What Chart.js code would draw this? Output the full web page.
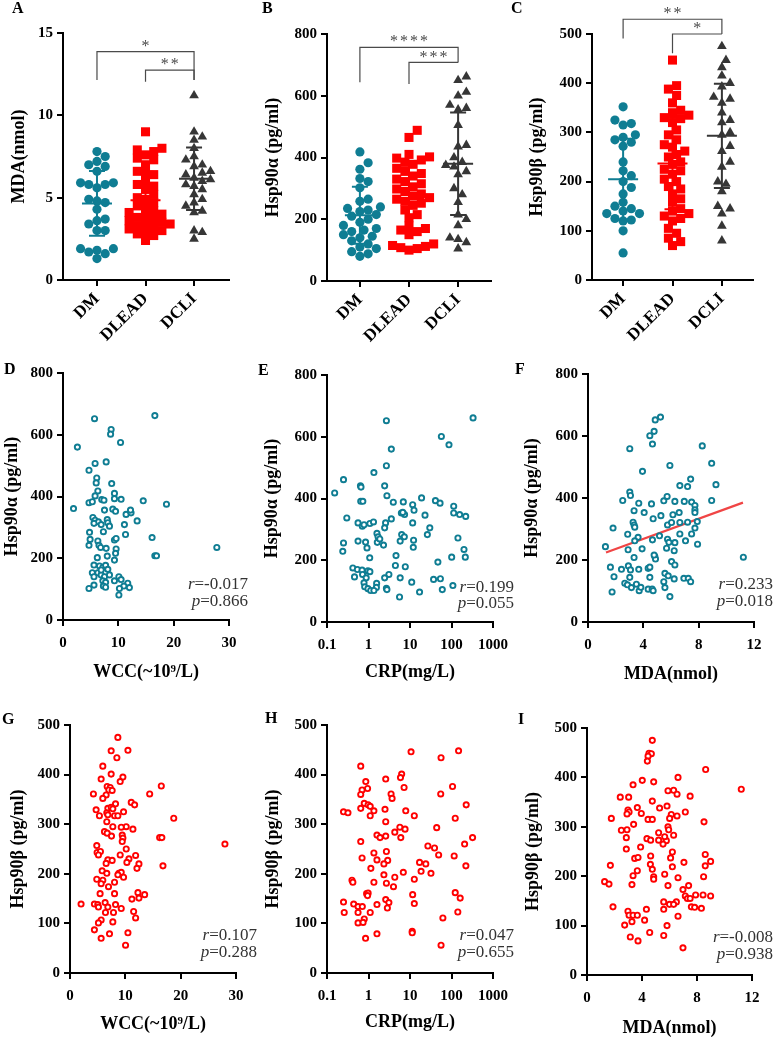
<!DOCTYPE html>
<html>
<head>
<meta charset="utf-8">
<script src="https://cdn.jsdelivr.net/npm/chart.js@4.4.1/dist/chart.umd.min.js"></script>
<style>
  body { margin: 0; background: #fff; width: 775px; height: 1038px; position: relative; overflow: hidden; }
  canvas { position: absolute; }
</style>
</head>
<body>
<canvas id="cA"></canvas><canvas id="cB"></canvas><canvas id="cC"></canvas>
<canvas id="cD"></canvas><canvas id="cE"></canvas><canvas id="cF"></canvas>
<canvas id="cG"></canvas><canvas id="cH"></canvas><canvas id="cI"></canvas>
<script>
// ===== DATA =====
const groups = ["DM", "DLEAD", "DCLI"];

// A: MDA (nmol)
const mdaDM = [7.8,7.5,7.2,7.0,6.9,6.6,5.9,5.9,5.8,5.8,5.6,4.9,4.8,4.7,4.3,3.7,3.6,3.4,3.0,3.0,1.9,1.9,1.8,1.7,1.6,1.3];
const mdaDLEAD = [9.0,8.0,7.9,7.8,7.6,7.4,7.3,7.0,6.6,6.5,6.4,6.0,5.8,5.7,5.5,5.2,5.0,4.9,4.7,4.5,4.4,4.2,4.1,4.0,3.9,3.8,3.7,3.6,3.5,3.4,3.4,3.3,3.2,3.1,3.0,2.9,2.8,2.7,2.4];
const mdaDCLI = [11.2,9.0,8.7,8.5,8.0,7.5,7.3,7.0,6.9,6.6,6.5,6.4,6.2,6.1,6.0,5.8,5.7,5.5,5.2,4.9,4.7,4.5,4.2,4.1,3.0,2.9,2.5];
const mdaMean = [4.65, 4.85, 6.15];
const mdaSD = [1.97, 1.73, 1.9];

// B: Hsp90a (pg/ml)
const alphaDM = [418,383,362,332,322,302,265,258,240,235,230,225,215,210,200,190,180,170,165,160,150,145,140,130,120,110,105,95,88,80];
const alphaDLEAD = [488,465,410,402,398,392,385,378,365,355,348,340,330,322,315,305,298,290,282,275,270,265,258,252,245,230,215,205,178,170,165,160,150,120,115,112,108,105,100];
const alphaDCLI = [662,650,612,600,570,560,555,505,440,435,400,385,375,370,355,345,300,280,255,215,200,180,140,135,125,105];
const alphaMean = [213, 268, 380];
const alphaSD = [92, 105, 166];

// C: Hsp90b (pg/ml)
const betaDM = [352,325,318,315,295,290,285,280,272,240,222,212,200,188,175,158,150,145,140,135,135,125,122,120,100,55];
const betaDLEAD = [447,395,388,375,360,345,340,335,330,328,320,305,295,285,275,270,262,255,250,240,235,225,222,215,205,200,190,185,175,165,158,145,140,135,130,125,120,105,95,85,78,70];
const betaDCLI = [475,447,432,415,400,393,372,368,360,340,325,320,300,295,272,262,240,230,200,195,180,150,145,135,110,80];
const betaMean = [205, 237, 293];
const betaSD = [82, 93, 106];

// D: WCC vs Hsp90a
const dWcc = [5.7,16.6,8.7,8.6,10.4,2.6,5.8,7.8,4.7,6.1,6.0,8.8,6.3,5.8,9.3,4.7,5.3,7.0,7.4,9.3,10.5,14.5,18.7,1.9,7.5,9.0,9.5,11.4,12.3,12.2,13.4,5.4,5.8,6.4,5.6,8.0,8.1,6.9,8.4,11.1,4.8,7.3,11.3,16.1,4.9,6.3,9.3,9.6,4.7,6.5,6.8,7.8,9.6,9.5,8.0,16.6,16.9,27.8,6.2,9.3,5.6,6.6,7.2,7.7,8.1,5.3,6.3,6.9,7.5,5.6,8.4,9.3,10.1,10.5,7.2,7.7,11.7,11.0,12.0,10.2,5.6,4.7,7.3,7.7,10.1,6.9];
const dHspA = [652,662,617,602,575,560,507,512,485,460,444,442,418,402,410,380,383,390,388,393,391,386,375,361,356,359,352,342,347,356,321,332,323,318,313,325,315,309,304,309,284,286,277,267,261,256,259,264,242,242,235,232,230,216,207,208,208,235,202,194,178,175,170,177,164,153,153,146,140,140,146,127,140,131,127,122,119,110,105,102,113,102,110,106,81,162];

// E: CRP vs Hsp90a
const eCrp = [2.7,331,57,87,3.55,2.7,1.35,0.25,0.153,0.64,0.66,2.45,2.78,0.65,0.73,3.96,6.9,11.6,19,41,53,113,113,157,220,12.5,23,7.4,6.2,6.7,0.3,3.55,0.56,0.71,0.78,1.08,1.32,2.58,2.45,11.6,30,26.2,1.6,1.7,6.3,7.3,0.25,0.56,0.85,1.63,1.87,2.3,5.8,12.2,12,0.92,143,0.24,200,1.07,4.6,101,215,47,0.42,0.54,0.7,0.97,1.08,0.72,0.46,3.1,4.45,7.7,0.88,2.45,5.8,0.78,1.57,0.81,0.97,1.55,2.7,2.78,1.13,1.35,11,37,54,60,108,17,5.6];
const eHspA = [652,661,601,574,560,506,484,461,418,441,437,441,409,391,391,388,389,380,402,393,385,375,353,348,342,362,346,348,353,355,337,334,321,310,315,319,324,321,305,321,305,283,287,276,283,276,256,262,259,258,269,249,262,265,242,240,272,229,235,208,215,210,210,194,175,170,168,166,163,154,146,154,183,179,143,143,143,127,125,114,108,112,109,105,102,102,129,138,140,105,118,97,81];

// F: MDA vs Hsp90a, with fitted line
const fMda = [4.86,5.24,4.78,4.47,4.66,3.02,8.26,8.94,5.92,3.94,7.42,6.64,7.2,9.25,3.02,3.07,2.51,3.67,4.59,5.48,5.72,6.28,6.96,7.49,7.73,8.94,3.33,4.06,5.27,6.14,6.59,7.73,7.73,3.26,3.33,3.38,4.71,5.75,6.04,6.64,7.2,7.9,7.73,1.81,2.87,6.64,7.49,3.62,5.17,3.38,4.66,5.75,5.85,6.28,7.05,7.92,1.26,2.9,3.91,5.68,6.23,4.83,4.88,4.78,3.33,6.04,6.28,1.62,2.92,3.07,2.42,3.67,4.35,4.47,1.88,3.02,4.47,5.56,5.8,6.23,6.93,7.25,7.42,5.48,2.66,2.85,3.5,3.14,3.7,3.82,4.35,4.64,4.71,5.56,1.74,5.92,11.23];
const fHspA = [652,661,615,601,574,559,568,512,505,486,461,440,437,443,419,408,392,383,381,391,405,389,389,387,376,392,359,353,343,346,353,362,353,322,313,306,333,313,321,321,322,324,303,303,283,284,284,273,278,262,265,267,257,256,262,251,243,233,236,238,230,211,203,216,208,195,184,177,181,168,170,170,173,177,146,144,144,157,149,139,141,141,130,130,125,120,122,111,101,112,106,106,101,111,97,82,209];
const fFitX = [1.3, 11.2];
const fFitY = [224, 385];

// G: WCC vs Hsp90b
const gWcc = [8.65,7.44,10.47,8.47,5.93,7.44,5.63,9.56,9.07,6.72,7.26,7.02,7.62,16.5,4.23,14.4,6.53,5.93,8.23,11.07,11.68,4.72,6.84,7.44,7.74,9.68,6.65,6.84,5.32,8.05,8.65,18.75,6.65,7.74,10.16,9.26,11.37,6.23,6.72,7.5,9.44,9.56,16.2,16.6,9.44,28.0,4.84,10.16,4.9,5.5,5.14,9.07,11.86,10.65,6.84,7.62,6.53,10.28,12.46,12.1,16.8,5.81,6.65,8.83,9.26,8.65,9.68,4.84,5.93,5.63,8.05,6.96,5.44,8.05,12.28,13.49,12.46,11.19,4.41,2.0,5.02,6.35,8.23,5.14,6.84,9.26,6.41,7.86,11.5,11.86,5.63,5.14,7.74,4.41,10.47,7.14,5.63,10.04];
const gHspB = [475,448,449,434,417,401,391,395,386,376,374,369,368,377,361,361,359,352,341,344,339,329,332,334,331,325,323,319,317,317,317,312,305,295,295,294,290,285,282,276,278,272,273,273,265,260,257,250,243,245,238,238,237,230,228,227,221,223,220,211,216,206,201,201,203,198,193,189,187,180,183,174,160,160,162,158,151,149,139,139,138,142,138,133,133,130,122,122,124,111,107,101,103,87,81,79,70,56];

// H: CRP vs Hsp90b
const hCrp = [10.6,148,56,0.65,6.3,5.9,2.6,0.86,106,7.2,0.95,0.70,0.65,55,3.5,3.7,0.79,0.98,1.1,226,0.65,1.35,2.5,7.9,0.25,0.32,1.1,12.7,123,2.6,5.7,44,4.3,7.6,1.6,2.6,6.0,1.9,322,0.65,207,27,39,1.35,2.7,49,116,0.70,1.6,2.9,2.35,17,24,222,1.14,18.5,6.9,32,2.35,4.3,12.7,0.40,0.42,1.35,2.7,4.0,0.9,0.98,0.95,11.6,123,162,0.25,2.6,3.1,0.44,0.56,0.71,1.6,12.7,2.85,0.26,0.56,1.1,142,0.79,62,0.56,0.74,11.3,11.3,1.6,0.85,56];
const hHspB = [446,448,434,417,401,394,391,386,376,374,372,369,360,361,361,352,342,339,336,339,332,327,330,327,325,323,317,317,312,305,294,293,284,290,278,276,273,273,273,265,260,256,252,242,245,238,236,232,228,227,220,223,220,216,211,205,203,201,198,193,189,187,183,183,181,174,160,161,156,158,162,151,143,148,142,139,134,134,138,140,131,122,122,122,123,109,111,101,102,84,81,79,70,56];

// I: MDA vs Hsp90b
const iMda = [4.75,4.51,4.68,4.44,4.39,8.63,6.62,4.02,4.85,3.35,11.22,5.89,6.3,6.55,7.5,2.42,3.03,4.75,3.66,5.28,5.82,7.15,2.98,3.06,2.91,3.95,6.13,6.55,6.01,1.77,4.44,4.75,8.51,3.39,2.5,2.91,5.89,5.94,5.21,6.3,2.86,4.36,4.63,5.21,5.77,5.65,5.53,2.86,3.9,6.21,8.6,4.63,6.08,3.47,3.71,1.7,7.05,8.99,8.6,4.61,6.21,4.75,3.66,3.35,5.65,4.85,4.85,6.62,8.48,1.28,1.6,3.27,5.89,7.39,6.98,8.44,8.99,7.15,7.3,7.5,7.9,5.58,6.5,6.0,6.3,7.59,7.83,8.32,1.89,5.58,4.32,2.98,3.06,3.35,3.66,3.27,6.62,4.19,2.74,5.82,4.56,3.15,5.58,3.71,6.98];
const iHspB = [475,449,448,443,433,416,400,394,391,385,376,373,374,366,362,360,360,352,339,338,342,330,334,330,326,327,325,322,317,317,315,315,310,305,293,294,300,294,288,283,278,276,273,273,272,280,265,255,259,249,244,241,237,236,238,222,228,230,221,224,219,214,211,201,204,199,194,197,199,189,184,183,181,181,173,162,160,160,155,155,162,148,148,143,143,138,137,135,138,133,133,129,121,121,121,108,119,111,101,100,86,77,80,69,55];

// correlation results printed on panels D-I
const corrR = ["-0.017", "0.199", "0.233", "0.107", "0.047", "-0.008"];
const corrP = ["0.866", "0.055", "0.018", "0.288", "0.655", "0.938"];

// ===== STYLE =====
const FONT = "'Liberation Serif', 'Times New Roman', serif";
const TEAL = "#0f7d93", RED = "#ff0000", DARK = "#363636";
const groupColors = [TEAL, RED, DARK];
const groupShapes = ["circle", "rect", "triangle"];
const groupRadius = [4.6, 6.4, 5.6];
const TICK_SIZE = 15, TITLE_SIZE = 18;

// spread points of one group sideways so that markers do not pile up
function swarm(vals, pxY, pxX, gap) {
  const order = vals.map((v, i) => i).sort((a, b) => vals[a] - vals[b]);
  const placed = [], off = [];
  order.forEach(i => {
    const py = vals[i] * pxY;
    let best = 0;
    for (let k = 0; k < 80; k++) {
      const dx = (k % 2 ? 1 : -1) * Math.ceil(k / 2) * gap / 2;
      if (placed.every(p => (p.x - dx) ** 2 + (p.y - py) ** 2 >= gap * gap)) { best = dx; break; }
    }
    placed.push({ x: best, y: py });
    off[i] = best / pxX;
  });
  return off;
}

const tickFont = (size = TICK_SIZE) => ({ family: FONT, size, weight: "bold" });

function axis(extra) {
  return Object.assign({
    border: { display: true, color: "#000", width: 2 },
    grid: { drawOnChartArea: false, color: "#000", lineWidth: 2, tickLength: 6 },
    ticks: { color: "#000", padding: 4, font: tickFont() }
  }, extra);
}

function titleOpt(text, pad) {
  return { display: true, text, color: "#000", font: { family: FONT, size: TITLE_SIZE, weight: "bold" }, padding: pad };
}

// letters, mean/SD bars, brackets and r/p text
function extras(p) {
  return {
    id: "extras",
    afterDatasetsDraw(chart) {
      const { ctx, scales: { x, y } } = chart;
      const bx = p.box.x, by = p.box.y;
      ctx.save();
      ctx.fillStyle = "#000";
      ctx.font = `bold 16px ${FONT}`;
      ctx.textBaseline = "top";
      ctx.fillText(p.letter[0], p.letter[1] - bx, p.letter[2] - by);

      if (p.means) {
        p.means.forEach((m, i) => {
          const cx = x.getPixelForValue(i);
          const ym = y.getPixelForValue(m);
          const yt = y.getPixelForValue(m + p.sds[i]);
          const yb = y.getPixelForValue(m - p.sds[i]);
          ctx.strokeStyle = groupColors[i];
          ctx.lineWidth = 2;
          ctx.beginPath();
          ctx.moveTo(cx - 15, ym); ctx.lineTo(cx + 15, ym);
          ctx.moveTo(cx, yt); ctx.lineTo(cx, yb);
          ctx.moveTo(cx - 8, yt); ctx.lineTo(cx + 8, yt);
          ctx.moveTo(cx - 8, yb); ctx.lineTo(cx + 8, yb);
          ctx.stroke();
        });
      }

      if (p.brackets) {
        ctx.strokeStyle = "#4a4a4a";
        ctx.fillStyle = "#4a4a4a";
        ctx.lineWidth = 1.2;
        ctx.textAlign = "center";
        ctx.textBaseline = "middle";
        ctx.font = `16px ${FONT}`;
        ctx.letterSpacing = "2px";
        p.brackets.forEach(b => {
          const x1 = x.getPixelForValue(b.from), x2 = x.getPixelForValue(b.to);
          const yl = y.getPixelForValue(b.level);
          ctx.beginPath();
          ctx.moveTo(x1, y.getPixelForValue(b.footL));
          ctx.lineTo(x1, yl);
          ctx.lineTo(x2, yl);
          ctx.lineTo(x2, y.getPixelForValue(b.footR));
          ctx.stroke();
          ctx.fillText(b.stars, (x1 + x2) / 2 + 1, yl - 5);
        });
        ctx.letterSpacing = "0px";
      }

      if (p.corr) {
        const [r, pv, xr, y1, y2] = p.corr;
        ctx.fillStyle = "#333";
        ctx.textBaseline = "alphabetic";
        ctx.textAlign = "right";
        [["r", "=" + r, y1], ["p", "=" + pv, y2]].forEach(([sym, rest, yy]) => {
          ctx.font = `17px ${FONT}`;
          const w = ctx.measureText(rest).width;
          ctx.fillText(rest, xr - bx, yy - by);
          ctx.font = `italic 17px ${FONT}`;
          ctx.fillText(sym, xr - bx - w, yy - by);
        });
      }
      ctx.restore();
    }
  };
}

function makePanel(id, p) {
  const cv = document.getElementById(id);
  const { box, area } = p;
  cv.width = box.w; cv.height = box.h;
  cv.style.left = box.x + "px"; cv.style.top = box.y + "px";
  const yW = area.l - box.x, xH = box.y + box.h - area.b;
  const fitY = s => { s.width = yW; s.paddingTop = 0; s.paddingBottom = 0; };
  const fitX = s => { s.height = xH; s.paddingLeft = 0; s.paddingRight = 0; };
  const half = TITLE_SIZE * 1.2 / 2;

  const xScale = Object.assign(axis(p.x), { afterFit: fitX });
  const yScale = axis({
    min: 0, max: p.yMax,
    ticks: { color: "#000", padding: 4, stepSize: p.yStep, font: tickFont() },
    title: titleOpt(p.yTitle, { top: p.yTitleX - box.x - half, bottom: 0 }),
    afterFit: fitY
  });
  if (p.xTitle) xScale.title = titleOpt(p.xTitle, { top: 0, bottom: box.y + box.h - half - p.xTitleY });

  return new Chart(cv, {
    type: "scatter",
    data: { datasets: p.datasets },
    options: {
      responsive: false,
      animation: false,
      events: [],
      layout: { padding: { left: 0, bottom: 0, top: area.t - box.y, right: box.x + box.w - area.r } },
      plugins: { legend: { display: false }, tooltip: { enabled: false } },
      scales: { x: xScale, y: yScale }
    },
    plugins: [extras(p)]
  });
}

// dot plot (top row)
function dotPanel(id, p, lists, pxY, pxX) {
  p.datasets = lists.map((vals, gi) => {
    const off = swarm(vals, pxY, pxX, 8.2);
    return {
      data: vals.map((v, i) => ({ x: gi + off[i], y: v })),
      pointStyle: groupShapes[gi],
      pointRadius: groupRadius[gi],
      backgroundColor: groupColors[gi],
      borderColor: groupColors[gi],
      borderWidth: 0
    };
  });
  p.x = {
    type: "linear", min: p.xMin, max: p.xMax,
    afterBuildTicks: s => { s.ticks = groups.map((g, i) => ({ value: i })); },
    ticks: {
      color: "#000", padding: 3, autoSkip: false, minRotation: 45, maxRotation: 45,
      font: tickFont(17),
      callback: v => groups[v]
    }
  };
  return makePanel(id, p);
}

// scatter plot (middle and bottom rows)
function scatterPanel(id, p, xs, ys, color) {
  p.datasets = [{
    data: xs.map((v, i) => ({ x: v, y: ys[i] })),
    pointStyle: "circle",
    pointRadius: 2.6,
    borderWidth: 1.9,
    borderColor: color,
    backgroundColor: "#fff"
  }];
  if (p.fit) {
    p.datasets.push({
      type: "line",
      data: p.fit[0].map((v, i) => ({ x: v, y: p.fit[1][i] })),
      borderColor: "#f04545",
      borderWidth: 2.2,
      pointRadius: 0
    });
  }
  return makePanel(id, p);
}

function linX(max, step) {
  return { type: "linear", min: 0, max, ticks: { color: "#000", padding: 8, stepSize: step, font: tickFont() } };
}
function logX() {
  return {
    type: "logarithmic", min: 0.1, max: 1000,
    afterBuildTicks: s => { s.ticks = [0.1, 1, 10, 100, 1000].map(v => ({ value: v })); },
    ticks: { color: "#000", padding: 8, font: tickFont(), callback: v => String(v) }
  };
}

// ===== TOP ROW =====
dotPanel("cA", {
  box: { x: 0, y: 0, w: 258, h: 350 }, area: { l: 63, r: 229, t: 33, b: 280 },
  letter: ["A", 12, 1], yMax: 15, yStep: 5, yTitle: "MDA(nmol)", yTitleX: 19,
  xMin: -0.7, xMax: 2.72, means: mdaMean, sds: mdaSD,
  brackets: [
    { from: 0, to: 2, level: 13.87, footL: 12.15, footR: 12.15, stars: "*" },
    { from: 1, to: 2, level: 12.75, footL: 12.04, footR: 12.15, stars: "**" }
  ]
}, [mdaDM, mdaDLEAD, mdaDCLI], 247 / 15, 48.5);

dotPanel("cB", {
  box: { x: 258, y: 0, w: 258, h: 350 }, area: { l: 327, r: 491, t: 34, b: 281 },
  letter: ["B", 262, 1], yMax: 800, yStep: 200, yTitle: "Hsp90α (pg/ml)", yTitleX: 273,
  xMin: -0.67, xMax: 2.67, means: alphaMean, sds: alphaSD,
  brackets: [
    { from: 0, to: 2, level: 757, footL: 644, footR: 708, stars: "****" },
    { from: 1, to: 2, level: 708, footL: 638, footR: 708, stars: "***" }
  ]
}, [alphaDM, alphaDLEAD, alphaDCLI], 247 / 800, 49);

dotPanel("cC", {
  box: { x: 508, y: 0, w: 267, h: 350 }, area: { l: 592, r: 753, t: 34, b: 280 },
  letter: ["C", 511, 1], yMax: 500, yStep: 100, yTitle: "Hsp90β (pg/ml)", yTitleX: 537,
  xMin: -0.63, xMax: 2.63, means: betaMean, sds: betaSD,
  brackets: [
    { from: 0, to: 2, level: 530, footL: 491, footR: 500, stars: "**" },
    { from: 1, to: 2, level: 500, footL: 461, footR: 500, stars: "*" }
  ]
}, [betaDM, betaDLEAD, betaDCLI], 246 / 500, 49.5);

// ===== MIDDLE ROW =====
scatterPanel("cD", {
  box: { x: 0, y: 345, w: 258, h: 345 }, area: { l: 63, r: 229, t: 373, b: 620 },
  letter: ["D", 4, 362], yMax: 800, yStep: 200, yTitle: "Hsp90α (pg/ml)", yTitleX: 12,
  x: linX(30, 10), xTitle: "WCC(~10⁹/L)", xTitleY: 672,
  corr: [corrR[0], corrP[0], 248, 589, 606]
}, dWcc, dHspA, TEAL);

scatterPanel("cE", {
  box: { x: 258, y: 345, w: 258, h: 345 }, area: { l: 327, r: 493, t: 375, b: 622 },
  letter: ["E", 258, 363], yMax: 800, yStep: 200, yTitle: "Hsp90α (pg/ml)", yTitleX: 272,
  x: logX(), xTitle: "CRP(mg/L)", xTitleY: 672,
  corr: [corrR[1], corrP[1], 514, 592, 608]
}, eCrp, eHspA, TEAL);

scatterPanel("cF", {
  box: { x: 508, y: 345, w: 267, h: 345 }, area: { l: 588, r: 754, t: 374, b: 622 },
  letter: ["F", 515, 362], yMax: 800, yStep: 200, yTitle: "Hsp90α (pg/ml)", yTitleX: 532,
  x: linX(12, 4), xTitle: "MDA(nmol)", xTitleY: 674,
  corr: [corrR[2], corrP[2], 773, 589, 606],
  fit: [fFitX, fFitY]
}, fMda, fHspA, TEAL);

// ===== BOTTOM ROW =====
scatterPanel("cG", {
  box: { x: 0, y: 690, w: 258, h: 348 }, area: { l: 70, r: 236, t: 725, b: 973 },
  letter: ["G", 2, 712], yMax: 500, yStep: 100, yTitle: "Hsp90β (pg/ml)", yTitleX: 18,
  x: linX(30, 10), xTitle: "WCC(~10⁹/L)", xTitleY: 1024,
  corr: [corrR[3], corrP[3], 257, 940, 957]
}, gWcc, gHspB, RED);

scatterPanel("cH", {
  box: { x: 258, y: 690, w: 258, h: 348 }, area: { l: 327, r: 493, t: 725, b: 973 },
  letter: ["H", 265, 711], yMax: 500, yStep: 100, yTitle: "Hsp90β (pg/ml)", yTitleX: 273,
  x: logX(), xTitle: "CRP(mg/L)", xTitleY: 1022,
  corr: [corrR[4], corrP[4], 514, 940, 957]
}, hCrp, hHspB, RED);

scatterPanel("cI", {
  box: { x: 508, y: 690, w: 267, h: 348 }, area: { l: 587, r: 752, t: 728, b: 975 },
  letter: ["I", 518, 712], yMax: 500, yStep: 100, yTitle: "Hsp90β (pg/ml)", yTitleX: 533,
  x: linX(12, 4), xTitle: "MDA(nmol)", xTitleY: 1028,
  corr: [corrR[5], corrP[5], 773, 942, 959]
}, iMda, iHspB, RED);
</script>
</body>
</html>
